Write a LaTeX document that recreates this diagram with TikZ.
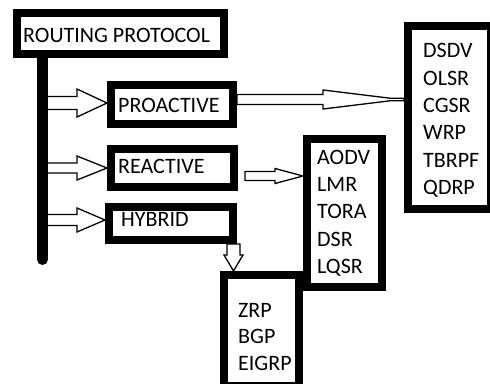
\documentclass[tikz,border=0pt]{standalone}
\usepackage{fontspec}
\setmainfont{Carlito}
\usetikzlibrary{calc}

\tikzset{
  framebox/.style={draw=black, line width=8pt, fill=white, inner sep=0pt,
                   anchor=north west},
  hollow/.style={draw=black, fill=white, line width=1.3pt, line join=miter},
  lbl/.style={anchor=base west, inner sep=0pt, font=\fontsize{22}{26}\selectfont},
}

% horizontal block arrow: tail, tip, shaft half-width, head half-width, head length
\newcommand\harrow[5]{%
  \draw[hollow] let \p1=(#1), \p2=(#2) in
    (\x1,{\y2+#3}) -- ({\x2-#5},{\y2+#3}) -- ({\x2-#5},{\y2+#4}) -- (\x2,\y2)
    -- ({\x2-#5},{\y2-#4}) -- ({\x2-#5},{\y2-#3}) -- (\x1,{\y2-#3}) -- cycle;}
% downward block arrow: tail, tip, shaft half-width, head half-width, head length
\newcommand\varrow[5]{%
  \draw[hollow] let \p1=(#1), \p2=(#2) in
    ({\x2+#3},\y1) -- ({\x2+#3},{\y2+#5}) -- ({\x2+#4},{\y2+#5}) -- (\x2,\y2)
    -- ({\x2-#4},{\y2+#5}) -- ({\x2-#3},{\y2+#5}) -- ({\x2-#3},\y1) -- cycle;}

\begin{document}
\begin{tikzpicture}[x=1pt, y=-1pt]
  \useasboundingbox (0,0) rectangle (490,383);
  \fill[white] (0,0) rectangle (490,383);
  \clip (0,0) rectangle (490,383);

  % positions of the frames (outer corners)
  \coordinate (rpC)   at (13,9);
  \coordinate (proC)  at (107,81);
  \coordinate (reaC)  at (107,145);
  \coordinate (hybC)  at (105,203);
  \coordinate (aodvC) at (303,135);
  \coordinate (dsdvC) at (404,22);
  \coordinate (zrpC)  at (220,271);

  % frames are placed as empty nodes so the connectors can refer to them
  \path
    node[framebox, minimum width=207pt, minimum height=41pt]  (rp)   at (rpC)   {}
    node[framebox, minimum width=122pt, minimum height=39pt]  (pro)  at (proC)  {}
    node[framebox, minimum width=123pt, minimum height=38pt]  (rea)  at (reaC)  {}
    node[framebox, minimum width=124pt, minimum height=33pt]  (hyb)  at (hybC)  {}
    node[framebox, minimum width=75pt,  minimum height=148pt] (aodv) at (aodvC) {}
    node[framebox, minimum width=83pt,  minimum height=183pt] (dsdv) at (dsdvC) {}
    node[framebox, minimum width=75pt,  minimum height=111pt] (zrp)  at (zrpC)  {};

  % trunk line under the title frame
  \coordinate (bartop) at (42.5,58);
  \coordinate (barbot) at (42.5,259.5);

  % connector end points
  \coordinate (t1) at ($(pro.west)+(0,-1.5)$);
  \coordinate (t2) at (rea.west);
  \coordinate (t3) at ($(hyb.west)+(0,-3.5)$);
  \coordinate (s1) at (bartop |- t1);
  \coordinate (s2) at (bartop |- t2);
  \coordinate (s3) at (bartop |- t3);
  \coordinate (t4) at ($(aodv.west)+(0,-37)$);
  \coordinate (s4) at ($(rea.east |- t4)+(7,0)$);
  \coordinate (t5) at ($(dsdv.west)+(0,-18)$);
  \coordinate (s5) at (pro.east |- t5);
  \coordinate (t6) at ($(zrp.north west)+(13.5,0)$);
  \coordinate (s6) at (t6 |- hyb.south);

  % branch arrows
  \harrow{s1}{t1}{6.5pt}{14pt}{30pt}
  \harrow{s2}{t2}{5pt}{12pt}{30pt}
  \harrow{s3}{t3}{5.5pt}{12pt}{28pt}
  \harrow{s4}{t4}{4.5pt}{7.5pt}{28pt}
  \varrow{s6}{t6}{6.5pt}{9.5pt}{16pt}
  % long tapering arrow towards the proactive list
  \draw[hollow] let \p1=(s5), \p2=(t5) in
    (\x1,{\y2+5pt}) -- ({\x1+86pt},{\y2+5pt}) -- ({\x1+86pt},{\y2+9.5pt})
    -- ({\x2-14pt},{\y2+1.3pt}) -- (\x2,{\y2+1.3pt}) -- (\x2,{\y2-1.3pt})
    -- ({\x2-14pt},{\y2-1.3pt}) -- ({\x1+86pt},{\y2-9.5pt})
    -- ({\x1+86pt},{\y2-5pt}) -- (\x1,{\y2-5pt}) -- cycle;

  % frames drawn again on top of the arrow ends
  \foreach \b in {rp,pro,rea,hyb,aodv,dsdv,zrp}
    \draw[line width=8pt] (\b.north west) ++(4,4) rectangle ($(\b.south east)+(-4,-4)$);

  \draw[line width=11pt, line cap=round] (bartop) -- (barbot);

  % labels
  \node[lbl] (lrp)  at (23,42)   {ROUTING PROTOCOL};
  \node[lbl] (lpro) at (118,112) {PROACTIVE};
  \node[lbl] (lrea) at (118,173) {REACTIVE};
  \node[lbl] (lhyb) at (121,226) {HYBRID};

  \node[lbl] (a1) at (317,164) {AODV};
  \node[lbl] (a2) at (317,191) {LMR};
  \node[lbl] (a3) at (317,218) {TORA};
  \node[lbl] (a4) at (317,246) {DSR};
  \node[lbl] (a5) at (317,273) {LQSR};

  \node[lbl] (d1) at (423,57)  {DSDV};
  \node[lbl] (d2) at (423,85)  {OLSR};
  \node[lbl] (d3) at (423,112) {CGSR};
  \node[lbl] (d4) at (423,139) {WRP};
  \node[lbl] (d5) at (423,167) {TBRPF};
  \node[lbl] (d6) at (423,194) {QDRP};

  \node[lbl] (z1) at (238,317) {ZRP};
  \node[lbl] (z2) at (238,343) {BGP};
  \node[lbl] (z3) at (238,370) {EIGRP};
\end{tikzpicture}
\end{document}
